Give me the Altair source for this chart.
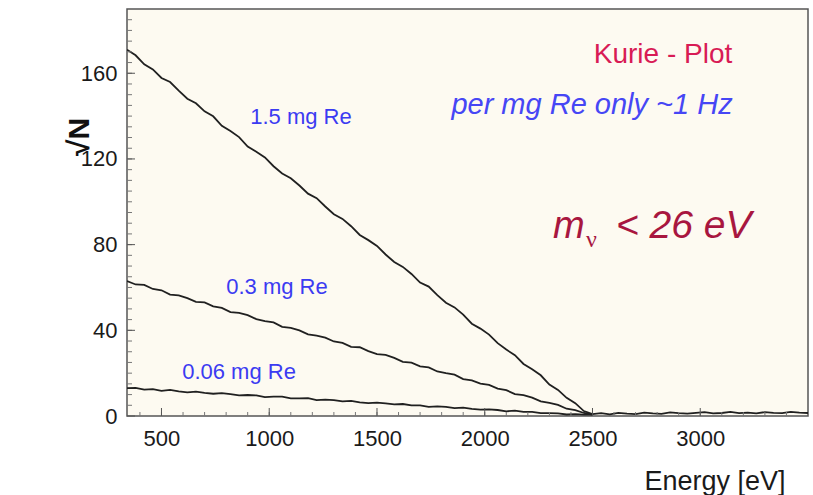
import altair as alt
import pandas as pd

# ---- data ----
energy = [340 + 40 * k for k in range(55)]  # 340 ... 2500 eV

re_15 = [171.0, 168.4, 164.2, 161.8, 157.8, 155.9, 151.9, 148.1, 146.0, 142.2, 139.9, 135.5,
         133.0, 130.2, 125.8, 123.4, 120.7, 116.6, 113.2, 111.0, 107.6, 103.8, 101.7, 97.8,
         94.2, 92.0, 88.6, 84.5, 82.1, 79.4, 75.4, 71.9, 69.6, 66.3, 62.3, 60.4, 56.4, 52.9,
         50.7, 47.3, 43.1, 40.8, 38.0, 34.0, 31.0, 28.4, 24.3, 21.8, 19.0, 14.7, 12.2, 8.5,
         6.0, 2.3, 0.9]
re_03 = [63.0, 61.4, 61.2, 59.3, 58.7, 56.7, 56.3, 55.0, 53.3, 53.0, 51.2, 50.5, 48.5, 48.1,
         47.1, 45.2, 44.3, 43.7, 41.6, 41.1, 40.0, 38.1, 37.5, 36.6, 34.8, 34.1, 32.3, 32.1,
         30.3, 28.9, 28.5, 27.1, 25.3, 24.9, 23.2, 22.7, 20.8, 20.0, 19.3, 17.2, 16.6, 15.1,
         14.5, 12.8, 12.1, 10.2, 9.7, 8.6, 6.8, 6.1, 5.2, 3.4, 2.7, 1.4, 0.6]
re_006 = [13.0, 13.1, 12.3, 12.5, 11.7, 12.2, 11.5, 11.0, 11.4, 10.8, 10.4, 10.7, 10.2, 9.6,
          9.8, 9.6, 8.8, 9.0, 9.0, 8.2, 8.2, 8.3, 7.4, 7.6, 7.4, 6.8, 7.1, 6.4, 6.0, 6.2, 5.9,
          5.4, 5.6, 5.0, 5.0, 4.3, 4.5, 4.3, 3.7, 3.9, 3.3, 3.0, 3.1, 2.8, 2.2, 2.5, 1.9, 1.9,
          1.3, 1.3, 1.2, 0.7, 0.9, 0.6, 0.7]

bg_energy = [2500 + 40 * k for k in range(26)]  # 2500 ... 3500 eV
bg_level = [0.9, 1.3, 0.8, 1.5, 1.1, 0.9, 1.6, 1.2, 1.0, 1.7, 1.3, 1.1, 1.5, 1.8, 1.2, 1.4,
            1.9, 1.3, 1.6, 1.2, 1.8, 1.5, 1.3, 1.9, 1.6, 1.4]

x_tick_labels = [500, 1000, 1500, 2000, 2500, 3000]
y_tick_labels = [0, 40, 80, 120, 160]
x_minor = list(range(400, 3500, 100))
y_minor = list(range(5, 190, 5))

FONT = "Liberation Sans"

rows = []
for name, vals in [("1.5 mg", re_15), ("0.3 mg", re_03), ("0.06 mg", re_006)]:
    for e, v in zip(energy, vals):
        rows.append({"series": name, "E": e, "v": v})
for e, v in zip(bg_energy, bg_level):
    rows.append({"series": "background", "E": e, "v": v})
df = pd.DataFrame(rows)

xs = alt.Scale(domain=[340, 3500], nice=False, zero=False)
ys = alt.Scale(domain=[0, 190], nice=False)

lines = alt.Chart(df).mark_line(color="#202020", strokeWidth=1.8, clip=True).encode(
    x=alt.X("E:Q", scale=xs, axis=alt.Axis(
        values=x_tick_labels, format="d", labelFontSize=22, labelFont=FONT, labelColor="#1a1a1a",
        labelPadding=12, ticks=False, domain=False, grid=False,
        title="Energy [eV]", titleFont=FONT, titleFontSize=27, titleFontWeight="normal",
        titleColor="#1a1a1a", titleX=658, titleY=73, titleAlign="right",
        titleBaseline="alphabetic")),
    y=alt.Y("v:Q", scale=ys, axis=alt.Axis(
        values=y_tick_labels, labelFontSize=22, labelFont=FONT, labelColor="#1a1a1a",
        labelPadding=10, ticks=False, domain=False, grid=False, title=None)),
    detail="series:N",
)

ymt = pd.DataFrame({"y": y_minor})
y_ticks = alt.Chart(ymt).mark_rule(color="#777", strokeWidth=1).encode(
    y=alt.Y("y:Q", scale=ys), x=alt.value(0), x2=alt.value(5))
ymaj = pd.DataFrame({"y": y_tick_labels})
y_ticks_major = alt.Chart(ymaj).mark_rule(color="#555", strokeWidth=1).encode(
    y=alt.Y("y:Q", scale=ys), x=alt.value(0), x2=alt.value(8))

xmt = pd.DataFrame({"x": x_minor})
x_ticks = alt.Chart(xmt).mark_rule(color="#777", strokeWidth=1).encode(
    x=alt.X("x:Q", scale=xs), y=alt.value(407), y2=alt.value(403))
xmaj = pd.DataFrame({"x": x_tick_labels})
x_ticks_major = alt.Chart(xmaj).mark_rule(color="#555", strokeWidth=1).encode(
    x=alt.X("x:Q", scale=xs), y=alt.value(407), y2=alt.value(399))


def label(text, x, y, size, color, align="center", baseline="middle", style="normal",
          font=FONT, angle=0, weight="normal"):
    return alt.Chart(pd.DataFrame({"t": [text]})).mark_text(
        align=align, baseline=baseline, fontSize=size, color=color, fontStyle=style,
        font=font, angle=angle, fontWeight=weight).encode(
        text="t:N", x=alt.value(x), y=alt.value(y))


texts = [
    label("1.5 mg Re", 174, 108, 22, "#3b3bf2"),
    label("0.3 mg Re", 150, 278, 22, "#3b3bf2"),
    label("0.06 mg Re", 112, 363, 22, "#3b3bf2"),
    label("Kurie - Plot", 536, 46, 28, "#d81b55"),
    label("per mg Re only ~1 Hz", 465, 96, 29, "#4646f5", style="italic"),
    label("m", 426, 229, 38, "#a8163f", align="left", baseline="alphabetic", style="italic"),
    label("ν", 459, 238, 24, "#a8163f", align="left", baseline="alphabetic",
          font="Liberation Serif"),
    label("< 26 eV", 489, 229, 39, "#a8163f", align="left", baseline="alphabetic",
          style="italic"),
    label("√N", -47, 128, 30, "#111111", angle=270, weight="bold"),
]

chart = alt.layer(lines, y_ticks, y_ticks_major, x_ticks, x_ticks_major, *texts).properties(
    width=681, height=407,
    autosize=alt.AutoSizeParams(type="none"),
    padding={"left": 127, "top": 9, "right": 5, "bottom": 79},
    background="white",
).configure_view(fill="#fdfaf1", stroke="#555555", strokeWidth=1.5)

chart.save("out.html", embed_options={"renderer": "svg", "actions": False})
